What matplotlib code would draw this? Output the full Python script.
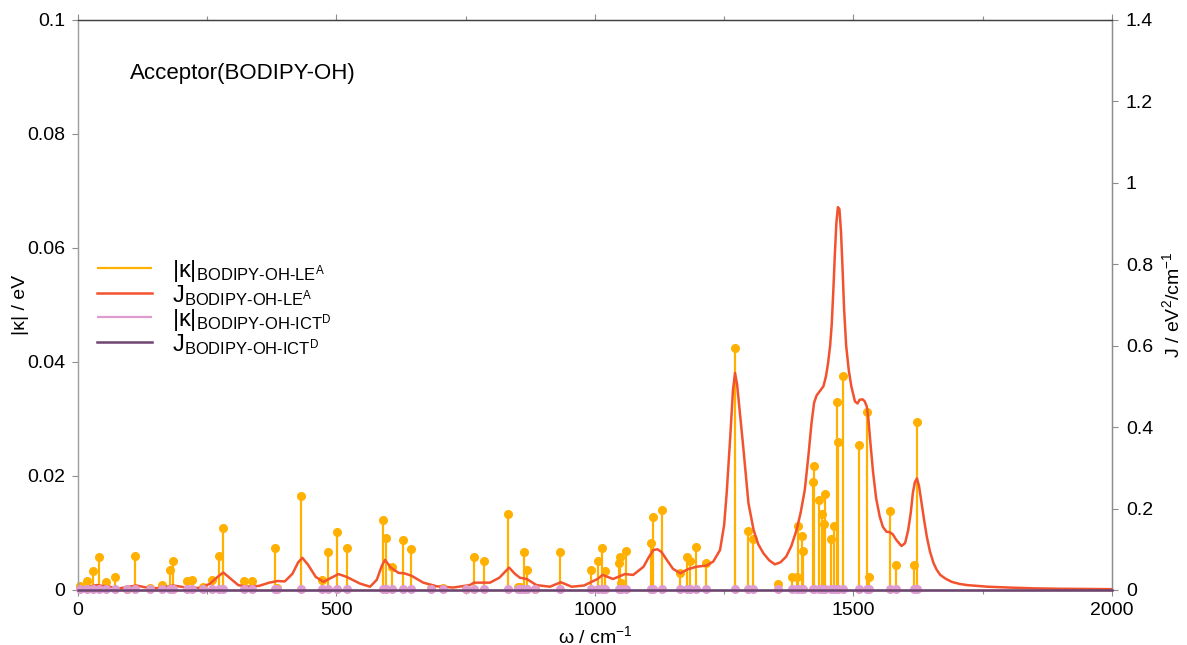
import numpy as np
import matplotlib
matplotlib.use("Agg")
import matplotlib.pyplot as plt

plt.rcParams['font.family'] = ['Liberation Sans', 'DejaVu Sans']
plt.rcParams['mathtext.fontset'] = 'custom'
plt.rcParams['mathtext.rm'] = 'Liberation Sans'
plt.rcParams['mathtext.it'] = 'Liberation Sans:italic'
plt.rcParams['mathtext.bf'] = 'Liberation Sans:bold'

# vibrational modes (cm-1) and coupling |kappa| (eV)
mode_freq = [3, 18, 29, 41, 54, 71, 95, 111, 139, 163, 178, 184, 210, 221, 241, 260,
             272, 280, 322, 336, 382, 385, 432, 473, 483, 501, 520, 590, 596, 608, 628,
             644, 683, 707, 751, 766, 786, 831, 851, 856, 862, 868, 885, 932, 993, 1005,
             1013, 1019, 1046, 1048, 1050, 1061, 1109, 1113, 1130, 1164, 1179, 1184, 1195,
             1214, 1271, 1296, 1306, 1354, 1382, 1391, 1393, 1400, 1402, 1421, 1424, 1433,
             1439, 1444, 1446, 1457, 1463, 1468, 1471, 1479, 1510, 1526, 1531, 1571, 1583,
             1617, 1623]
kappa_le = [0.0007, 0.0015, 0.0034, 0.0058, 0.0014, 0.0023, 0.0002, 0.0060, 0.0004, 0.0008,
            0.0035, 0.0050, 0.0015, 0.0018, 0.0005, 0.0018, 0.0060, 0.0108, 0.0015, 0.0016,
            0.0073, 0.0003, 0.0164, 0.0018, 0.0067, 0.0102, 0.0074, 0.0123, 0.0091, 0.0041,
            0.0088, 0.0071, 0.0003, 0.0003, 0.0002, 0.0058, 0.0051, 0.0133, 0.0006, 0.0006,
            0.0066, 0.0035, 0.0002, 0.0067, 0.0035, 0.0050, 0.0073, 0.0034, 0.0047, 0.0058,
            0.0012, 0.0069, 0.0082, 0.0128, 0.0140, 0.0029, 0.0058, 0.0050, 0.0076, 0.0047,
            0.0424, 0.0104, 0.0089, 0.0011, 0.0022, 0.0022, 0.0113, 0.0095, 0.0069, 0.0190,
            0.0218, 0.0158, 0.0133, 0.0116, 0.0169, 0.0089, 0.0113, 0.0329, 0.0260, 0.0375,
            0.0255, 0.0312, 0.0022, 0.0138, 0.0044, 0.0043, 0.0295]
kappa_ict = [0.0001] * len(mode_freq)

# spectral density J (eV^2/cm-1)
j_freq = [0, 15, 36, 60, 80, 113, 140, 160, 184, 210, 235, 255, 270, 281, 295, 310, 326,
          350, 370, 386, 400, 415, 426, 434, 445, 460, 475, 490, 504, 520, 545, 565, 578,
          588, 594, 605, 620, 631, 645, 668, 694, 726, 758, 766, 797, 815, 834, 845, 855,
          868, 887, 913, 934, 955, 979, 1005, 1015, 1035, 1058, 1074, 1094, 1104, 1113, 1121,
          1129, 1140, 1151, 1165, 1180, 1196, 1216, 1229, 1242, 1250, 1255, 1262, 1267,
          1271, 1275, 1280, 1287, 1297, 1307, 1316, 1326, 1337, 1348, 1359, 1370, 1380,
          1390, 1398, 1406, 1413, 1419, 1424, 1429, 1436, 1442, 1447, 1451, 1455, 1458,
          1461, 1464, 1467, 1470, 1473, 1476, 1479, 1482, 1486, 1491, 1496, 1503, 1508,
          1512, 1518, 1522, 1526, 1529, 1533, 1538, 1544, 1551, 1557, 1564, 1570, 1576,
          1583, 1593, 1600, 1606, 1611, 1615, 1619, 1623, 1627, 1632, 1637, 1642, 1648,
          1655, 1661, 1668, 1678, 1690, 1705, 1720, 1740, 1760, 1800, 1850, 1900, 2000]
j_le = [0.002, 0.006, 0.012, 0.008, 0.004, 0.011, 0.004, 0.005, 0.011, 0.006, 0.005, 0.015,
        0.032, 0.043, 0.028, 0.012, 0.008, 0.010, 0.018, 0.022, 0.021, 0.040, 0.068, 0.079,
        0.062, 0.032, 0.020, 0.030, 0.039, 0.032, 0.016, 0.008, 0.025, 0.060, 0.074, 0.055,
        0.042, 0.041, 0.035, 0.018, 0.009, 0.006, 0.012, 0.018, 0.018, 0.030, 0.055, 0.040,
        0.030, 0.027, 0.012, 0.008, 0.019, 0.008, 0.011, 0.027, 0.037, 0.027, 0.039, 0.037,
        0.057, 0.080, 0.098, 0.100, 0.093, 0.072, 0.052, 0.041, 0.051, 0.057, 0.060, 0.070,
        0.098, 0.160, 0.240, 0.380, 0.490, 0.533, 0.505, 0.440, 0.350, 0.213, 0.147, 0.112,
        0.090, 0.073, 0.063, 0.068, 0.082, 0.108, 0.147, 0.190, 0.246, 0.330, 0.410, 0.460,
        0.478, 0.490, 0.500, 0.525, 0.557, 0.600, 0.650, 0.730, 0.820, 0.900, 0.940, 0.935,
        0.880, 0.790, 0.690, 0.600, 0.540, 0.500, 0.463, 0.458, 0.467, 0.468, 0.463, 0.450,
        0.420, 0.360, 0.290, 0.225, 0.180, 0.155, 0.143, 0.142, 0.137, 0.123, 0.108, 0.115,
        0.147, 0.190, 0.238, 0.265, 0.274, 0.255, 0.213, 0.170, 0.131, 0.095, 0.066, 0.050,
        0.037, 0.028, 0.020, 0.015, 0.012, 0.010, 0.008, 0.006, 0.004, 0.003, 0.002]
j_ict_freq = [0, 500, 1000, 1500, 2000]
j_ict = [0.0005, 0.0005, 0.0005, 0.0005, 0.0005]

c_kle = '#FFB000'
c_jle = '#F2532E'
c_kict = '#DE9CD0'
c_jict = '#6E4470'
spine_grey = '#8c8c8c'

fig = plt.figure(figsize=(11.87, 6.45), dpi=100)
rect = [0.0657, 0.0853, 0.871, 0.884]
ax = fig.add_axes(rect)
ax2 = ax.twinx()
# extra overlay axes so the ICT data sits above the LE curve
ax3 = fig.add_axes(rect, sharex=ax, sharey=ax)
ax4 = fig.add_axes(rect, sharex=ax, sharey=ax2)
for a in (ax3, ax4):
    a.set_axis_off()
    a.patch.set_visible(False)

st_le = ax.stem(mode_freq, kappa_le, basefmt=' ')
st_le.stemlines.set_color(c_kle)
st_le.stemlines.set_linewidth(1.6)
st_le.markerline.set_color(c_kle)
st_le.markerline.set_markersize(5.5)
st_le.markerline.set_clip_on(False)

line_jle, = ax2.plot(j_freq, j_le, color=c_jle, lw=1.8)

st_ict = ax3.stem(mode_freq, kappa_ict, basefmt=' ')
st_ict.stemlines.set_color(c_kict)
st_ict.stemlines.set_linewidth(1.6)
st_ict.markerline.set_color(c_kict)
st_ict.markerline.set_markersize(5.5)
st_ict.markerline.set_clip_on(False)

line_jict, = ax4.plot(j_ict_freq, j_ict, color=c_jict, lw=1.8, clip_on=False)

ax.set_xlim(0, 2000)
ax.set_ylim(0, 0.1)
ax2.set_ylim(0, 1.4)

ax.set_xticks([0, 500, 1000, 1500, 2000])
ax.set_xticks([250, 750, 1250, 1750], minor=True)
ax.set_yticks([0, 0.02, 0.04, 0.06, 0.08, 0.1])
ax.set_yticklabels(['0', '0.02', '0.04', '0.06', '0.08', '0.1'])
ax2.set_yticks(np.arange(0, 1.41, 0.2))
ax2.set_yticklabels(['0', '0.2', '0.4', '0.6', '0.8', '1', '1.2', '1.4'])

ax.xaxis.set_ticks_position('both')
ax.tick_params(axis='both', which='both', direction='out', length=4, width=0.8,
               colors=spine_grey, labelcolor='black', labelsize=14, pad=5)
ax.tick_params(axis='x', which='minor', length=3)
ax2.tick_params(axis='y', direction='out', length=4, width=0.8,
                colors=spine_grey, labelcolor='black', labelsize=14, pad=6)

for a in (ax, ax2):
    a.spines['left'].set_color('#a0a0a0')
    a.spines['right'].set_color(spine_grey)
    a.spines['top'].set_color('#404040')
    a.spines['bottom'].set_color('#404040')
    for s in a.spines.values():
        s.set_linewidth(0.9)

ax.set_xlabel(r'ω / cm$^{-1}$', fontsize=14, labelpad=4)
ax.set_ylabel('|κ| / eV', fontsize=14, labelpad=-1)
ax2.set_ylabel(r'J / eV$^{2}$/cm$^{-1}$', fontsize=14, labelpad=6)

ax.text(0.05, 0.905, 'Acceptor(BODIPY-OH)', transform=ax.transAxes,
        fontsize=16, va='center', ha='left')

handles = [st_le.stemlines, line_jle, st_ict.stemlines, line_jict]
labels = [r'$|\mathrm{κ}|_{\text{BODIPY-OH-LE}^{\text{A}}}$',
          r'$\text{J}_{\text{BODIPY-OH-LE}^{\text{A}}}$',
          r'$|\mathrm{κ}|_{\text{BODIPY-OH-ICT}^{\text{D}}}$',
          r'$\text{J}_{\text{BODIPY-OH-ICT}^{\text{D}}}$']
ax4.legend(handles, labels, loc='upper left', bbox_to_anchor=(0.002, 0.612),
           frameon=False, fontsize=17, handlelength=2.35, handletextpad=0.85,
           labelspacing=-0.04, borderaxespad=0.3)

fig.savefig('out.png', dpi=100)
